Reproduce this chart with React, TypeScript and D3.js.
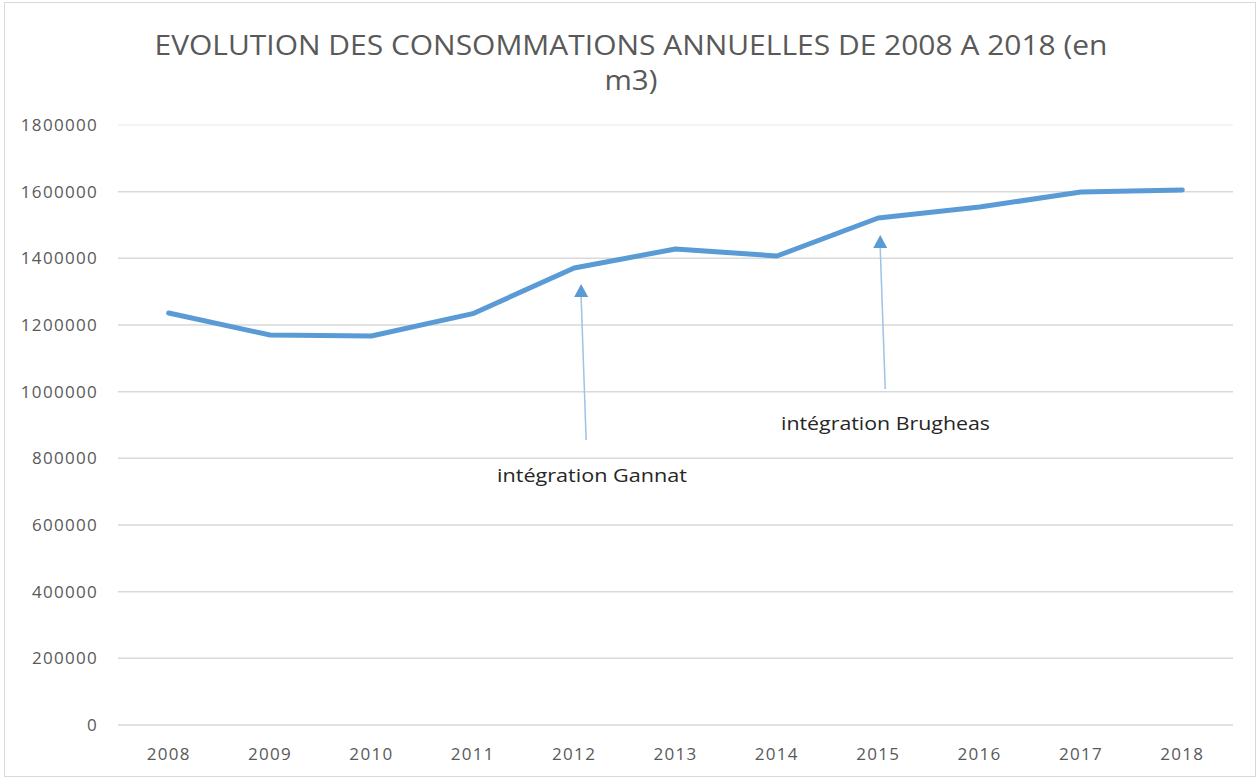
import React from "react";
import * as d3 from "d3";

const years = ["2008", "2009", "2010", "2011", "2012", "2013", "2014", "2015", "2016", "2017", "2018"];
const consumption = [1236000, 1170000, 1167000, 1234000, 1371000, 1428000, 1407000, 1521000, 1554000, 1599000, 1605000];
const yTicks = [0, 200000, 400000, 600000, 800000, 1000000, 1200000, 1400000, 1600000, 1800000];
const annotationLabels = ["intégration Gannat", "intégration Brugheas"];
const annotationYears = ["2012", "2015"];
const annotationTips = [1320000, 1467000];
const annotationFrom = [855000, 1008000];
const annotationTextAt = [730000, 885000];
const titleLines = ["EVOLUTION DES CONSOMMATIONS ANNUELLES DE 2008 A 2018 (en", "m3)"];

const W = 1260;
const H = 778;
const margin = { left: 118, right: 27, top: 125, bottom: 53 };
const arrowDx = [7, 2];
const textX = [497, 781];
const textLen = [190, 209];

export default function App() {
  const x = d3
    .scaleBand<string>()
    .domain(years)
    .range([margin.left, W - margin.right])
    .paddingInner(0)
    .paddingOuter(0);
  const y = d3.scaleLinear().domain([0, 1800000]).range([H - margin.bottom, margin.top]);
  const cx = (yr: string) => (x(yr) as number) + x.bandwidth() / 2;

  const line = d3
    .line<number>()
    .x((_, i) => cx(years[i]))
    .y((d) => y(d));

  const font = "'Open Sans', 'DejaVu Sans', sans-serif";

  return (
    <svg width={W} height={H} style={{ position: "absolute", left: 0, top: 0, background: "#fff" }} fontFamily={font}>
      <rect x={4.5} y={2.5} width={1251} height={774} fill="#fff" stroke="#d9d9d9" strokeWidth={1} />
      <text x={631} y={55} textAnchor="middle" fontSize={27} fill="#595959" textLength={953} lengthAdjust="spacingAndGlyphs">
        {titleLines[0]}
      </text>
      <text x={631} y={90} textAnchor="middle" fontSize={27} fill="#595959" textLength={53} lengthAdjust="spacingAndGlyphs">
        {titleLines[1]}
      </text>
      {yTicks.map((t) => (
        <g key={t}>
          <line
            x1={margin.left}
            x2={W - margin.right}
            y1={y(t)}
            y2={y(t)}
            stroke={t === 1800000 ? "#f0f0f0" : "#d9d9d9"}
            strokeWidth={1.5}
          />
          <text x={98} y={y(t) + 6} textAnchor="end" fontSize={17} fill="#595959" letterSpacing={1.3}>
            {t}
          </text>
        </g>
      ))}
      {years.map((yr) => (
        <text key={yr} x={cx(yr)} y={760} textAnchor="middle" fontSize={17} fill="#595959" letterSpacing={1.3}>
          {yr}
        </text>
      ))}
      <path d={line(consumption) || ""} fill="none" stroke="#5b9bd5" strokeWidth={5} strokeLinejoin="round" strokeLinecap="round" />
      {annotationLabels.map((label, i) => {
        const ax = cx(annotationYears[i]) + arrowDx[i];
        const tipY = y(annotationTips[i]) - 1;
        const baseY = tipY + 13;
        return (
          <g key={label}>
            <line x1={ax + 5} y1={y(annotationFrom[i])} x2={ax} y2={baseY} stroke="#9dc3e6" strokeWidth={1.5} />
            <path d={`M${ax},${tipY} L${ax - 7},${baseY} L${ax + 7},${baseY} Z`} fill="#5b9bd5" />
            <text
              x={textX[i]}
              y={y(annotationTextAt[i])}
              fontSize={19}
              fill="#262626"
              textLength={textLen[i]}
              lengthAdjust="spacingAndGlyphs"
            >
              {label}
            </text>
          </g>
        );
      })}
    </svg>
  );
}
